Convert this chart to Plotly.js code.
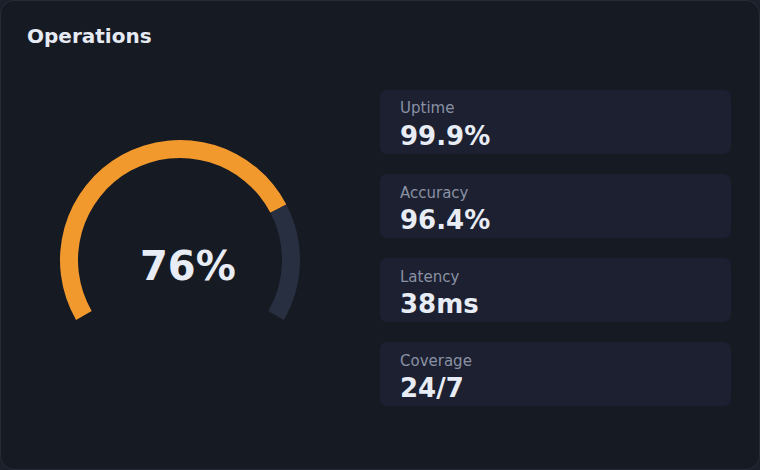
<!DOCTYPE html>
<html>
<head>
<meta charset="utf-8">
<script src="https://cdn.plot.ly/plotly-3.0.1.min.js"></script>
<style>
  html, body { margin: 0; padding: 0; background: #1c202a; }
  #card {
    width: 758px; height: 468px;
    background: #161a23;
    border: 1px solid #262b37;
    border-radius: 14px;
    overflow: hidden;
  }
  #chart { width: 758px; height: 468px; }
</style>
</head>
<body>
<div id="card"><div id="chart"></div></div>
<script>
const gaugeValue = 76;
const gaugeMax = 100;
const statLabels = ['Uptime', 'Accuracy', 'Latency', 'Coverage'];
const statValues = ['99.9%', '96.4%', '38ms', '24/7'];

const W = 758, H = 468;
const px = (x) => x / W;
const py = (y) => 1 - y / H;

// gauge sweeps 240 degrees, the bottom 120 degrees stay empty
const gap = gaugeMax * 120 / 240;

const data = [
  {
    type: 'pie',
    values: [gaugeValue, gaugeMax - gaugeValue, gap],
    marker: {
      colors: ['#f2992d', '#282f40', 'rgba(0,0,0,0)'],
      line: { width: 0 },
    },
    hole: 0.85,
    sort: false,
    direction: 'clockwise',
    rotation: 240,
    textinfo: 'none',
    hoverinfo: 'skip',
    showlegend: false,
    domain: { x: [px(59), px(299)], y: [py(379), py(139)] },
  },
];

function roundRect(x0, y0, x1, y1, r) {
  const X = (v) => px(v), Y = (v) => py(v);
  return 'M ' + X(x0 + r) + ',' + Y(y0) +
    ' L ' + X(x1 - r) + ',' + Y(y0) +
    ' Q ' + X(x1) + ',' + Y(y0) + ' ' + X(x1) + ',' + Y(y0 + r) +
    ' L ' + X(x1) + ',' + Y(y1 - r) +
    ' Q ' + X(x1) + ',' + Y(y1) + ' ' + X(x1 - r) + ',' + Y(y1) +
    ' L ' + X(x0 + r) + ',' + Y(y1) +
    ' Q ' + X(x0) + ',' + Y(y1) + ' ' + X(x0) + ',' + Y(y1 - r) +
    ' L ' + X(x0) + ',' + Y(y0 + r) +
    ' Q ' + X(x0) + ',' + Y(y0) + ' ' + X(x0 + r) + ',' + Y(y0) + ' Z';
}

const shapes = [];
const annotations = [
  {
    text: '<b>Operations</b>',
    x: px(24.5), y: py(35), xref: 'paper', yref: 'paper',
    xanchor: 'left', yanchor: 'middle', showarrow: false, borderpad: 0,
    font: { family: 'DejaVu Sans', size: 20, color: '#e6eaf3' },
  },
  {
    text: '<b>' + gaugeValue + '%</b>',
    x: px(186.5), y: py(265), xref: 'paper', yref: 'paper',
    xanchor: 'center', yanchor: 'middle', showarrow: false, borderpad: 0,
    font: { family: 'DejaVu Sans', size: 40, color: '#e8ecf5' },
  },
];

statLabels.forEach((label, i) => {
  const top = 89 + i * 84;
  shapes.push({
    type: 'path',
    xref: 'paper', yref: 'paper',
    path: roundRect(379, top, 730, top + 64, 8),
    fillcolor: '#1c2030',
    line: { width: 0 },
    layer: 'below',
  });
  annotations.push({
    text: label,
    x: px(398), y: py(top + 18.5), xref: 'paper', yref: 'paper',
    xanchor: 'left', yanchor: 'middle', showarrow: false, borderpad: 0,
    font: { family: 'DejaVu Sans', size: 15, color: '#8a91a4' },
  });
  annotations.push({
    text: '<b>' + statValues[i] + '</b>',
    x: px(398), y: py(top + 45.5), xref: 'paper', yref: 'paper',
    xanchor: 'left', yanchor: 'middle', showarrow: false, borderpad: 0,
    font: { family: 'DejaVu Sans', size: 26, color: '#e8ecf5' },
  });
});

const layout = {
  width: W,
  height: H,
  margin: { t: 0, b: 0, l: 0, r: 0 },
  paper_bgcolor: 'rgba(0,0,0,0)',
  plot_bgcolor: 'rgba(0,0,0,0)',
  showlegend: false,
  shapes: shapes,
  annotations: annotations,
};

Plotly.newPlot('chart', data, layout, { displayModeBar: false, staticPlot: true });
</script>
</body>
</html>
